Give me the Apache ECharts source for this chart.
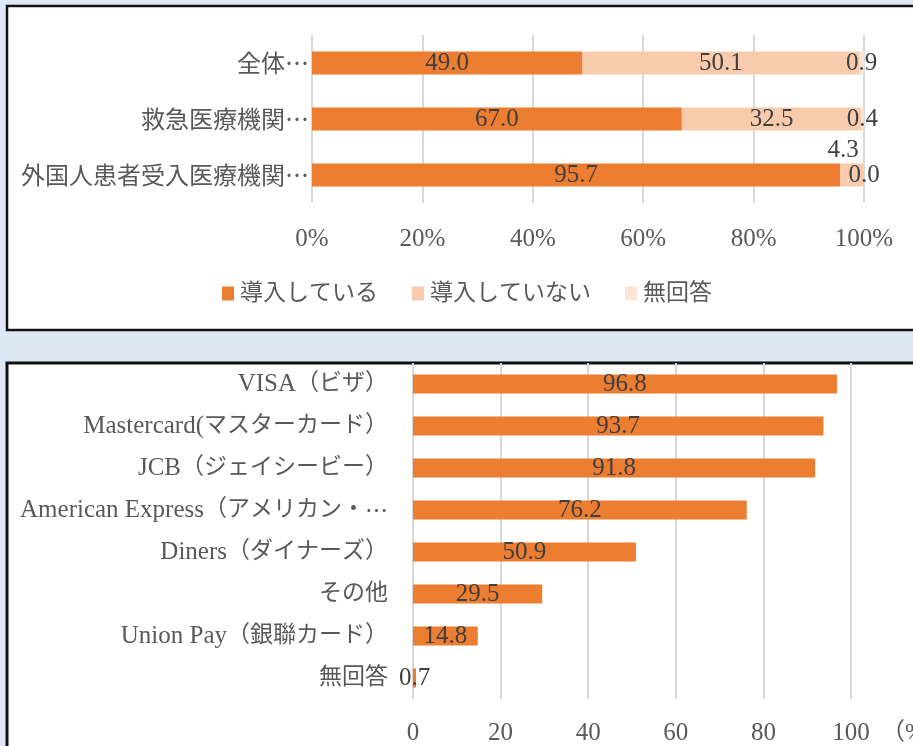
<!DOCTYPE html>
<html>
<head>
<meta charset="utf-8">
<script src="https://cdn.jsdelivr.net/npm/echarts@6/dist/echarts.min.js"></script>
<style>
html,body{margin:0;padding:0;background:#dde8f4;}
#c{width:913px;height:746px;}
</style>
</head>
<body>
<div id="c"></div>
<script>
// ---- Data: top chart (100% stacked) ----
const topCategories = ['全体…', '救急医療機関…', '外国人患者受入医療機関…'];
const topSeriesNames = ['導入している', '導入していない', '無回答'];
const introduced = [49.0, 67.0, 95.7];
const notIntroduced = [50.1, 32.5, 4.3];
const noAnswer = [0.9, 0.4, 0.0];
const topTicks = ['0%', '20%', '40%', '60%', '80%', '100%'];

// ---- Data: bottom chart (card brands) ----
const cardCategories = ['VISA（ビザ）', 'Mastercard(マスターカード）', 'JCB（ジェイシービー）',
  'American Express（アメリカン・…', 'Diners（ダイナーズ）', 'その他', 'Union Pay（銀聯カード）', '無回答'];
const cardValues = [96.8, 93.7, 91.8, 76.2, 50.9, 29.5, 14.8, 0.7];
const cardTicks = ['0', '20', '40', '60', '80', '100'];
const unitLabel = '（%）';

const SERIF = "'Liberation Serif'";
const CJK = "'Noto Sans CJK JP'";
const FONT = SERIF + ", " + CJK + ", serif";
const TXT = '#595959';
const LBL = '#404040';
const GRIDC = '#d9d9d9';
const COLORS = ['#ED7D31', '#F8CBAD', '#FBE5D6'];
const NUM = 25;

const fmt = p => Number(p.value).toFixed(1);

const chart = echarts.init(document.getElementById('c'), null, {renderer: 'canvas'});

const notIntroData = notIntroduced.map((v, i) =>
  (v < 10 && i === notIntroduced.length - 1)
    ? {value: v, label: {position: 'top', offset: [-9, 4]}}
    : v);

// wrap ASCII runs so Latin text is serif and slightly larger than kana/kanji
const cardLabelFmt = v => v.replace(/([\x20-\x7e]+)/g, '{a|$1}').replace(/…/g, '{e|…}');

chart.setOption({
  backgroundColor: '#dde8f4',
  animation: false,
  textStyle: {fontFamily: FONT},
  graphic: [
    {type: 'rect', z: -10, shape: {x: 7, y: 6, width: 920, height: 324},
     style: {fill: '#ffffff', stroke: '#111', lineWidth: 2.5}},
    {type: 'rect', z: -10, shape: {x: 7, y: 363, width: 920, height: 400},
     style: {fill: '#ffffff', stroke: '#111', lineWidth: 3}},
    {type: 'text', z: 10, x: 881, y: 733,
     style: {text: unitLabel, font: "24px " + FONT, fill: TXT, verticalAlign: 'middle', align: 'left'}}
  ],
  legend: {
    data: topSeriesNames,
    left: 217, top: 277,
    icon: 'rect', itemWidth: 12, itemHeight: 14, itemGap: 34,
    textStyle: {fontFamily: FONT, fontSize: 23, color: TXT, padding: [0, 0, 0, 1]}
  },
  grid: [
    {left: 312, right: 49, top: 35, height: 168},
    {left: 413, right: 62, top: 363, height: 336}
  ],
  xAxis: [
    {gridIndex: 0, type: 'value', min: 0, max: 100, interval: 20,
     axisLine: {show: false}, axisTick: {show: false},
     splitLine: {show: true, lineStyle: {color: GRIDC, width: 2}},
     axisLabel: {margin: 24, fontFamily: FONT, fontSize: NUM, color: TXT,
       formatter: (v) => topTicks[Math.round(v / 20)]}},
    {gridIndex: 1, type: 'value', min: 0, max: 100, interval: 20,
     axisLine: {show: false}, axisTick: {show: false},
     splitLine: {show: true, lineStyle: {color: GRIDC, width: 2}},
     axisLabel: {margin: 22, fontFamily: FONT, fontSize: NUM, color: TXT,
       formatter: (v) => cardTicks[Math.round(v / 20)]}}
  ],
  yAxis: [
    {gridIndex: 0, type: 'category', data: topCategories, inverse: true,
     axisLine: {show: false}, axisTick: {show: false},
     axisLabel: {margin: 3, fontFamily: CJK, fontSize: 24, color: TXT}},
    {gridIndex: 1, type: 'category', data: cardCategories, inverse: true,
     axisLine: {show: false}, axisTick: {show: false},
     axisLabel: {margin: 25, fontFamily: FONT, fontSize: 23, color: TXT,
       formatter: cardLabelFmt,
       rich: {
         a: {fontFamily: SERIF, fontSize: 25, color: TXT},
         e: {fontFamily: CJK, fontSize: 23, color: TXT}
       }}}
  ],
  series: [
    {name: topSeriesNames[0], type: 'bar', stack: 't', xAxisIndex: 0, yAxisIndex: 0,
     data: introduced, barWidth: 23, itemStyle: {color: COLORS[0]},
     label: {show: true, position: 'inside', formatter: fmt, fontFamily: FONT, fontSize: NUM, color: LBL}},
    {name: topSeriesNames[1], type: 'bar', stack: 't', xAxisIndex: 0, yAxisIndex: 0,
     data: notIntroData, barWidth: 23, itemStyle: {color: COLORS[1]},
     label: {show: true, position: 'inside', formatter: fmt, fontFamily: FONT, fontSize: NUM, color: LBL}},
    {name: topSeriesNames[2], type: 'bar', stack: 't', xAxisIndex: 0, yAxisIndex: 0,
     data: noAnswer, barWidth: 23, itemStyle: {color: COLORS[2]},
     label: {show: true, position: 'inside', formatter: fmt, fontFamily: FONT, fontSize: NUM, color: LBL}},
    {name: 'cards', type: 'bar', xAxisIndex: 1, yAxisIndex: 1,
     data: cardValues, barWidth: 19, itemStyle: {color: COLORS[0]},
     label: {show: true, position: 'inside', formatter: fmt, fontFamily: FONT, fontSize: NUM, color: LBL}}
  ]
});
</script>
</body>
</html>
